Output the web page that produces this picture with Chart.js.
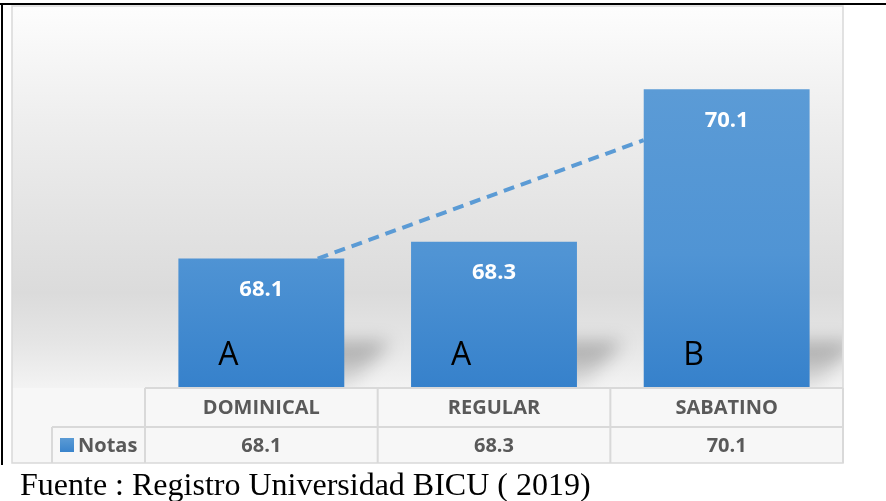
<!DOCTYPE html>
<html lang="es">
  <head>
    <meta charset="UTF-8" />
    <title>Notas por turno</title>
    <style>
      html, body { margin: 0; padding: 0; background: #fff; }
      canvas { display: block; }
    </style>
  </head>
  <body>
    <script src="https://cdn.jsdelivr.net/npm/chart.js"></script>
    <canvas id="myChart" width="886" height="501"></canvas>
    <script>
      const categories = ["DOMINICAL", "REGULAR", "SABATINO"];
      const notas = [68.1, 68.3, 70.1];
      const grupos = ["A", "A", "B"];
      const seriesName = "Notas";
      // dashed trend from the first bar up to the third
      const trendLine = [68.1, 69.5];
      const source = "Fuente : Registro Universidad BICU ( 2019)";

      const boxLeft = 12, boxTop = 6, boxRight = 843, boxBottom = 463;
      const rowMid = 427;

      const backdrop = {
        id: "backdrop",
        beforeDraw(chart) {
          const ctx = chart.ctx;
          const area = chart.chartArea;
          ctx.save();
          ctx.fillStyle = "#ffffff";
          ctx.fillRect(0, 0, chart.width, chart.height);

          // frame lines of the page
          ctx.strokeStyle = "#000";
          ctx.lineWidth = 2;
          ctx.beginPath();
          ctx.moveTo(0, 4);
          ctx.lineTo(chart.width, 4);
          ctx.moveTo(2, 4);
          ctx.lineTo(2, boxBottom + 2);
          ctx.stroke();

          const g = ctx.createLinearGradient(0, boxTop, 0, area.bottom);
          g.addColorStop(0, "#fdfdfd");
          g.addColorStop(0.3, "#eeeeee");
          g.addColorStop(0.75, "#dbdbdb");
          g.addColorStop(0.88, "#e5e5e5");
          g.addColorStop(1, "#f3f3f3");
          ctx.fillStyle = g;
          ctx.fillRect(boxLeft, boxTop, boxRight - boxLeft, area.bottom - boxTop);
          ctx.fillStyle = "#f7f7f7";
          ctx.fillRect(boxLeft, area.bottom, boxRight - boxLeft, boxBottom - area.bottom);
          ctx.strokeStyle = "#d9d9d9";
          ctx.lineWidth = 1.5;
          ctx.strokeRect(boxLeft, boxTop, boxRight - boxLeft, boxBottom - boxTop);
          ctx.restore();
        },
        beforeDatasetsDraw(chart) {
          // soft perspective shadow behind each bar
          const ctx = chart.ctx;
          const base = chart.chartArea.bottom;
          ctx.save();
          ctx.beginPath();
          ctx.rect(boxLeft, chart.chartArea.top, boxRight - boxLeft - 1, base - chart.chartArea.top);
          ctx.clip();
          ctx.filter = "blur(9px)";
          chart.getDatasetMeta(0).data.forEach((bar) => {
            const l = bar.x - bar.width / 2, r = bar.x + bar.width / 2;
            const sg = ctx.createLinearGradient(0, base - 48, 0, base);
            sg.addColorStop(0, "rgba(0,0,0,0.30)");
            sg.addColorStop(1, "rgba(0,0,0,0.05)");
            ctx.fillStyle = sg;
            ctx.beginPath();
            ctx.moveTo(l + 10, base);
            ctx.lineTo(l + 52, base - 46);
            ctx.lineTo(r + 46, base - 46);
            ctx.lineTo(r + 4, base);
            ctx.closePath();
            ctx.fill();
          });
          ctx.restore();
        },
        afterDatasetsDraw(chart) {
          const ctx = chart.ctx;
          const y = chart.scales.y;
          const bars = chart.getDatasetMeta(0).data;
          const base = chart.chartArea.bottom;
          ctx.save();

          // dashed trend line
          const b0 = bars[0], b2 = bars[2];
          ctx.strokeStyle = "#5b9bd5";
          ctx.lineWidth = 4;
          ctx.setLineDash([11, 7]);
          ctx.beginPath();
          ctx.moveTo(b0.x + b0.width * 0.34, y.getPixelForValue(trendLine[0]));
          ctx.lineTo(b2.x - b2.width / 2, y.getPixelForValue(trendLine[1]));
          ctx.stroke();
          ctx.setLineDash([]);

          // value labels and group letters
          ctx.textAlign = "center";
          ctx.textBaseline = "middle";
          bars.forEach((bar, i) => {
            ctx.fillStyle = "#ffffff";
            ctx.font = "bold 22px 'Open Sans', sans-serif";
            ctx.fillText(notas[i].toFixed(1), bar.x, bar.y + 31);
            ctx.fillStyle = "#000000";
            ctx.font = "32px 'Open Sans', sans-serif";
            ctx.fillText(grupos[i], bar.x - 33, base - 32);
          });
          ctx.restore();
        },
        afterDraw(chart) {
          const ctx = chart.ctx;
          const x = chart.scales.x;
          const area = chart.chartArea;
          const step = x.getPixelForValue(1) - x.getPixelForValue(0);
          const left = x.getPixelForValue(0) - step / 2;
          ctx.save();
          ctx.strokeStyle = "#d9d9d9";
          ctx.lineWidth = 2;
          ctx.beginPath();
          ctx.moveTo(left, area.bottom);
          ctx.lineTo(boxRight, area.bottom);
          ctx.moveTo(52, rowMid);
          ctx.lineTo(boxRight, rowMid);
          ctx.moveTo(52, rowMid);
          ctx.lineTo(52, boxBottom);
          for (let i = 0; i <= categories.length; i++) {
            const px = left + i * step;
            ctx.moveTo(px, area.bottom);
            ctx.lineTo(px, boxBottom);
          }
          ctx.stroke();

          ctx.fillStyle = "#595959";
          ctx.font = "bold 20px 'Open Sans', sans-serif";
          ctx.textAlign = "center";
          ctx.textBaseline = "middle";
          categories.forEach((c, i) => {
            const cx = x.getPixelForValue(i);
            ctx.fillText(c, cx, (area.bottom + rowMid) / 2 + 1);
            ctx.fillText(notas[i].toFixed(1), cx, (rowMid + boxBottom) / 2 + 1);
          });

          // legend key in the table
          const lg = ctx.createLinearGradient(0, 438, 0, 452);
          lg.addColorStop(0, "#5b9bd5");
          lg.addColorStop(1, "#3a84cc");
          ctx.fillStyle = lg;
          ctx.fillRect(60, 438, 14, 14);
          ctx.fillStyle = "#595959";
          ctx.textAlign = "left";
          ctx.fillText(seriesName, 78, (rowMid + boxBottom) / 2 + 1);

          ctx.fillStyle = "#000";
          ctx.font = "32px 'Liberation Serif', 'Times New Roman', serif";
          ctx.textBaseline = "alphabetic";
          ctx.fillText(source, 20, 495);
          ctx.restore();
        },
      };

      new Chart("myChart", {
        type: "bar",
        data: {
          labels: categories,
          datasets: [
            {
              label: seriesName,
              data: notas,
              backgroundColor: (c) => {
                const area = c.chart.chartArea;
                if (!area) return "#4a90d2";
                const g = c.chart.ctx.createLinearGradient(0, area.top + 70, 0, area.bottom);
                g.addColorStop(0, "#5b9bd6");
                g.addColorStop(0.55, "#5094d4");
                g.addColorStop(1, "#3681cb");
                return g;
              },
              borderWidth: 0,
              barPercentage: 0.713,
              categoryPercentage: 1,
            },
          ],
        },
        options: {
          responsive: false,
          animation: false,
          layout: { padding: { left: 145, right: 43, top: 20, bottom: 113 } },
          plugins: {
            legend: { display: false },
            tooltip: { enabled: false },
            title: { display: false },
          },
          scales: {
            x: { display: false },
            y: { display: false, min: 66.57, max: 70.92 },
          },
        },
        plugins: [backdrop],
      });
    </script>
  </body>
</html>
